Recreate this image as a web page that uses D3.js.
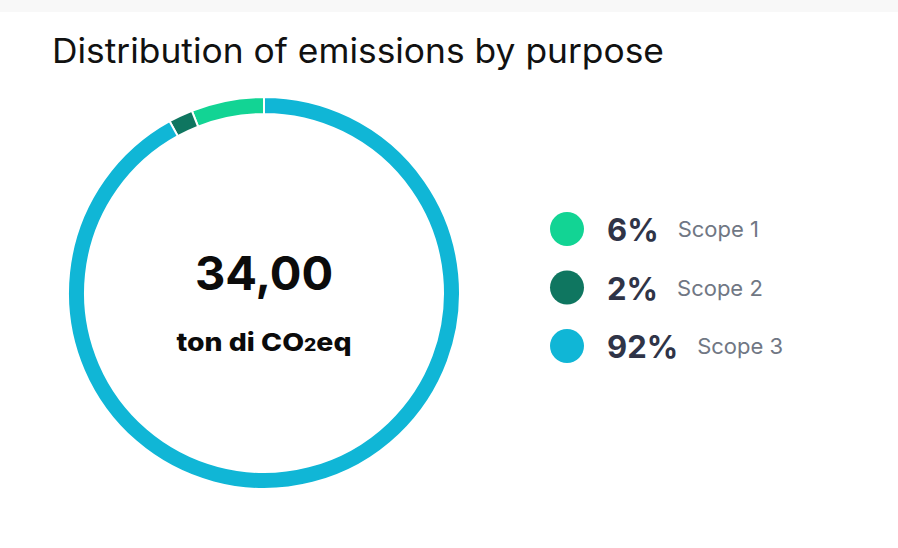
<!DOCTYPE html>
<html>
<head>
<meta charset="utf-8">
<script src="https://cdn.jsdelivr.net/npm/d3@7"></script>
<style>
  html, body { margin: 0; padding: 0; background: #f8f8f8; }
  svg { display: block; }
</style>
</head>
<body>
<svg id="chart"></svg>
<script>
const labels = ['Scope 1', 'Scope 2', 'Scope 3'];
const shares = [6, 2, 92];
const colors = ['#12d494', '#0f7660', '#10b6d6'];
const totalText = '34,00';

const w = 898; // svg width
const h = 548; // svg height
const cx = 264; // donut centre
const cy = 293;
const outerR = 196;
const innerR = 179;

const svg = d3.select('#chart').attr('width', w).attr('height', h);

// white card below the thin grey strip
svg.append('rect')
  .attr('x', 0).attr('y', 12)
  .attr('width', w).attr('height', h - 12)
  .attr('fill', '#ffffff');

svg.append('text')
  .attr('x', 52)
  .attr('y', 63)
  .attr('font-family', 'Inter, "Liberation Sans", sans-serif')
  .attr('font-size', 34)
  .attr('fill', '#111')
  .attr('textLength', 612)
  .attr('lengthAdjust', 'spacingAndGlyphs')
  .text('Distribution of emissions by purpose');

// slices go counterclockwise from 12 o'clock
const pie = d3.pie().sort(null).startAngle(0).endAngle(-2 * Math.PI);
const arc = d3.arc().innerRadius(innerR).outerRadius(outerR);

const g = svg.append('g').attr('transform', `translate(${cx},${cy})`);

g.selectAll('path')
  .data(pie(shares))
  .enter()
  .append('path')
  .attr('d', arc)
  .attr('fill', (d, i) => colors[i])
  .attr('stroke', '#ffffff')
  .attr('stroke-width', 2);

// centre label
g.append('text')
  .attr('text-anchor', 'middle')
  .attr('y', -3)
  .attr('font-family', 'Inter, "Liberation Sans", sans-serif')
  .attr('font-weight', 700)
  .attr('font-size', 47)
  .attr('fill', '#0b0b0b')
  .text(totalText);

const unit = g.append('text')
  .attr('text-anchor', 'middle')
  .attr('y', 58)
  .attr('font-family', 'Inter, "Liberation Sans", sans-serif')
  .attr('font-weight', 800)
  .attr('font-size', 25)
  .attr('fill', '#0b0b0b')
  .attr('textLength', 175)
  .attr('lengthAdjust', 'spacingAndGlyphs');
unit.append('tspan').text('ton di CO');
unit.append('tspan').attr('font-size', 17).text('2');
unit.append('tspan').text('eq');

// legend
const legendY = d3.scalePoint().domain(labels).range([229, 346]);

const item = svg.selectAll('g.legend')
  .data(labels)
  .enter()
  .append('g')
  .attr('class', 'legend')
  .attr('transform', (d) => `translate(567,${legendY(d)})`);

item.append('circle')
  .attr('r', 17)
  .attr('fill', (d, i) => colors[i]);

const pct = item.append('text')
  .attr('x', 40)
  .attr('y', 12)
  .attr('font-family', 'Inter, "Liberation Sans", sans-serif')
  .attr('font-weight', 700)
  .attr('font-size', 31)
  .attr('fill', '#2f3447')
  .text((d, i) => shares[i] + '%');

item.append('text')
  .attr('x', function (d, i) {
    return 40 + pct.nodes()[i].getComputedTextLength() + 19;
  })
  .attr('y', 8)
  .attr('font-family', 'Inter, "Liberation Sans", sans-serif')
  .attr('font-size', 22)
  .attr('fill', '#707784')
  .text((d) => d);
</script>
</body>
</html>
